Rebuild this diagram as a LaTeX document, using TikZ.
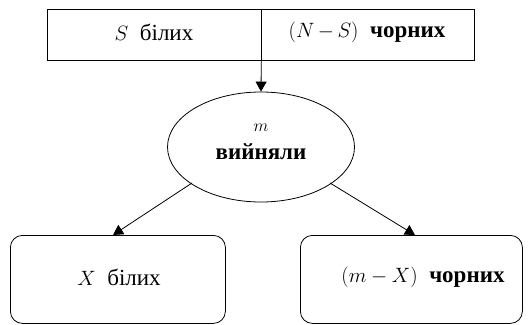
\documentclass[tikz,border=0pt]{standalone}
\usepackage{fontspec}
\setmainfont{Liberation Serif}
\usetikzlibrary{arrows.meta,shapes.geometric}
\newcommand{\mth}[1]{{\fontsize{20}{22}\selectfont$#1$}}
\begin{document}
\begin{tikzpicture}[x=1pt,y=-1pt,
  line width=0.8pt,
  arr/.style={-{Triangle[length=10pt,width=11pt]}},
  lbl/.style={font=\fontsize{23}{26}\selectfont, inner sep=0pt}]
\useasboundingbox (0,0) rectangle (532,324);
\node[draw, rectangle, minimum width=213.5pt, minimum height=51pt, inner sep=0pt, anchor=north west] (lefttop) at (47,9) {};
\node[draw, rectangle, minimum width=213.5pt, minimum height=51pt, inner sep=0pt, anchor=north west] (righttop) at (260.5,9) {};
\node[lbl] (st) at (154,32) {\mth{S}\ \ білих};
\node[lbl] (nst) at (367,32) {\mth{(N\,{-}\,S)}\ \ \textbf{чорних}};
\node[draw, ellipse, minimum width=187pt, minimum height=110pt, inner sep=0pt] (ell) at (261,147) {};
\node[inner sep=0pt, font=\fontsize{17}{19}\selectfont] (m) at (261,128) {$m$};
\node[lbl] (vyin) at (261,152) {\textbf{вийняли}};
\node[draw, rectangle, rounded corners=12pt, minimum width=215pt, minimum height=88pt, inner sep=0pt, anchor=north west] (lb) at (10,235) {};
\node[draw, rectangle, rounded corners=12pt, minimum width=222pt, minimum height=88pt, inner sep=0pt, anchor=north west] (rb) at (300,235) {};
\node[lbl] (xb) at (119,277) {\mth{X}\ \ білих};
\node[lbl] (mx) at (423,277) {\mth{(m-X)}\ \ \textbf{чорних}};
\draw[arr] (lefttop.south east) -- (ell.north);
\coordinate (ls) at (192,183);
\coordinate (rs) at (330,183);
\draw[arr] (ls) -- (lb.north -| 113,0);
\draw[arr] (rs) -- (rb.north -| 415,0);
\end{tikzpicture}
\end{document}
